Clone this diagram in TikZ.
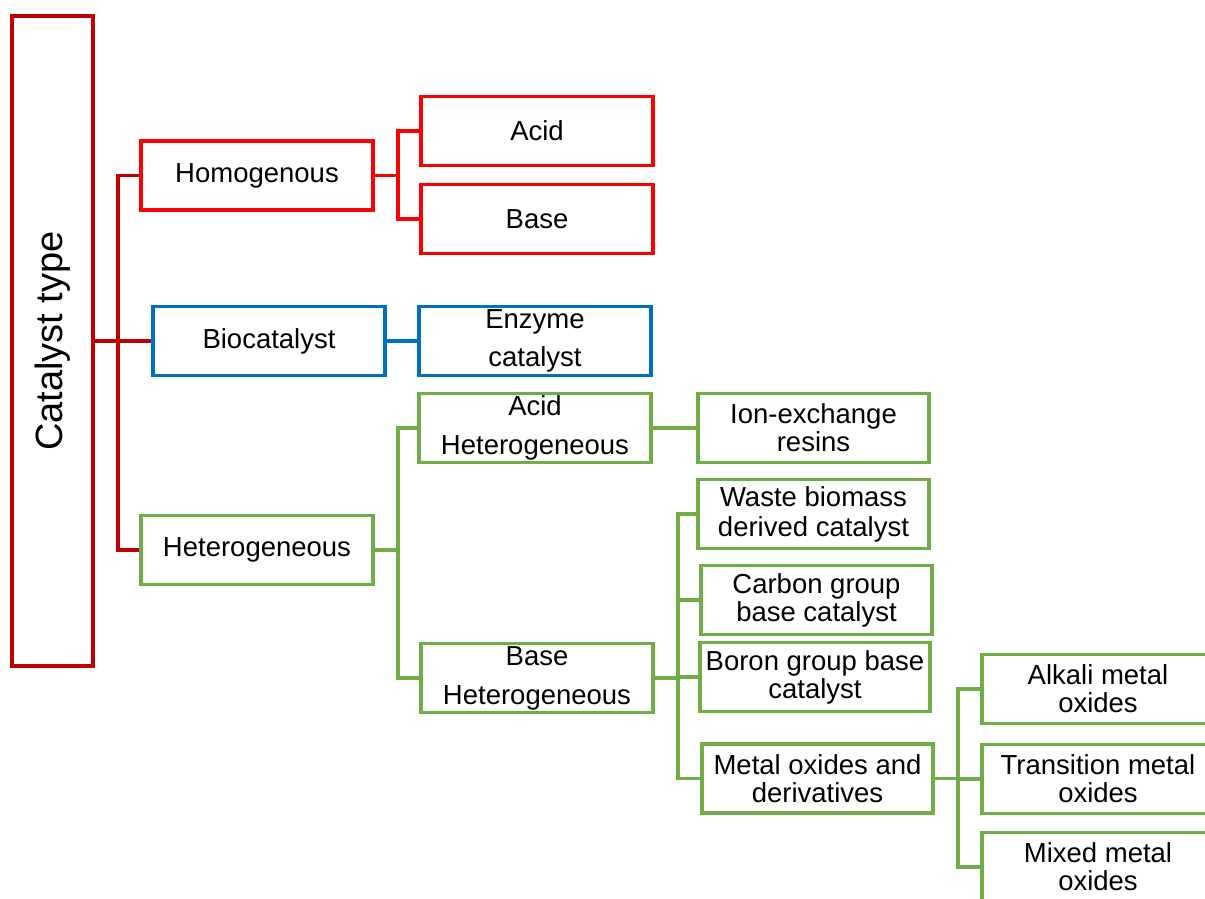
\documentclass[tikz,border=0pt]{standalone}
\usepackage{fontspec}
\setmainfont{Liberation Sans}
\usepackage{xcolor}
\usepackage{tikz}
\definecolor{dred}{HTML}{C00000}
\definecolor{bred}{HTML}{FF0000}
\definecolor{cblue}{HTML}{0070C0}
\definecolor{cgreen}{HTML}{70AD47}

\begin{document}
\begin{tikzpicture}[x=1pt,y=-1pt,line width=3.5pt,b/.style={draw,minimum width=232pt,minimum height=69pt,inner sep=0pt,align=center,font=\fontsize{27.5}{28}\selectfont},r/.style={b,draw=bred},u/.style={b,draw=cblue},g/.style={b,draw=cgreen}]
 \clip (0,0) rectangle (1205,899);
 \node[draw=dred,rotate=90,minimum width=650pt,minimum height=81pt,inner sep=0pt,font=\fontsize{38}{40}\selectfont] (root) at (52.5,341) {Catalyst type};
 % level 1
 \node[r] (hom) at (257,175.5) {Homogenous};
 \node[u] (bio) at (269,341) {Biocatalyst};
 \node[g] (het) at (257,550) {Heterogeneous};
 % level 2
 \node[r] (acid) at (537,131) {Acid};
 \node[r] (base) at (537,219) {Base};
 \node[u] (enz) at (535,341) {Enzyme\\[10pt]catalyst};
 \node[g] (aht) at (535,428) {Acid\\[11pt]Heterogeneous};
 \node[g] (bht) at (537,678) {Base\\[11pt]Heterogeneous};
 % level 3
 \node[g,minimum width=231pt] (ion) at (813.5,428) {Ion-exchange\\resins};
 \node[g,minimum width=231pt] (waste) at (813.5,514) {Waste biomass\\[2pt]derived catalyst};
 \node[g,minimum width=231pt] (carb) at (816.5,600) {Carbon group\\base catalyst};
 \node[g,minimum width=230pt] (boron) at (815,677) {Boron group base\\catalyst};
 \node[g,minimum width=231pt] (metal) at (817.5,778.5) {Metal oxides and\\derivatives};
 % level 4
 \node[g] (alk) at (1098,689) {Alkali metal\\oxides};
 \node[g] (trans) at (1098,779) {Transition metal\\oxides};
 \node[g] (mixed) at (1098,867) {Mixed metal\\oxides};
 % connectors
 \coordinate (t1) at (118,341);
 \draw[dred] (root.south) -- (bio.west);
 \draw[dred] (hom.west) -| (t1) |- (het.west);
 \coordinate (t2) at (398,175.5);
 \draw[bred] (hom.east) -- (t2);
 \draw[bred] (acid.west) -| (t2) |- (base.west);
 \draw[cblue] (bio.east) -- (enz.west);
 \coordinate (t3) at (398,550);
 \draw[cgreen] (het.east) -- (t3);
 \draw[cgreen] (aht.west) -| (t3) |- (bht.west);
 \draw[cgreen] (aht.east) -- (ion.west);
 \coordinate (t4) at (678,678);
 \draw[cgreen] (bht.east) -- (t4);
 \draw[cgreen] (waste.west) -| (t4) |- (metal.west);
 \draw[cgreen] (carb.west) -- (carb.west -| t4);
 \draw[cgreen] (boron.west) -- (boron.west -| t4);
 \coordinate (t5) at (958,778.5);
 \draw[cgreen] (metal.east) -- (t5);
 \draw[cgreen] (alk.west) -| (t5) |- (mixed.west);
 \draw[cgreen] (trans.west) -- (trans.west -| t5);
\end{tikzpicture}
\end{document}
